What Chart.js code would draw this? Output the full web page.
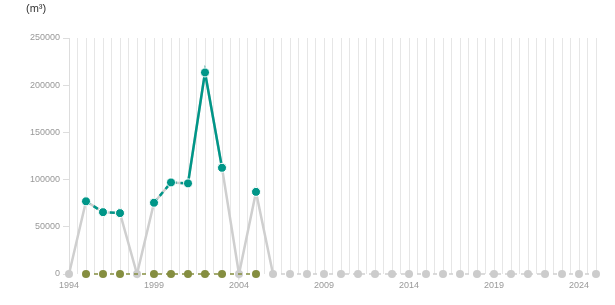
<!DOCTYPE html>
<html>
<head>
<meta charset="utf-8">
<script src="https://cdn.jsdelivr.net/npm/chart.js@4"></script>
<style>
  html, body { margin: 0; padding: 0; background: #fff; }
  #wrap { width: 615px; height: 305px; }
</style>
</head>
<body>
<div id="wrap"><canvas id="chart" width="615" height="305"></canvas></div>
<script>
// Годы и значения (м³)
const years = [];
for (let y = 1994; y <= 2025; y++) years.push(y);

const volumes = [
  0, 77000, 65500, 64500, 0, 75500, 97000, 96000, 213500, 112500,
  0, 87000, 0, 0, 0, 0, 0, 0, 0, 0,
  0, 0, 0, 0, 0, 0, 0, 0, 0, 0,
  0, 0
];
// годы с данными (цветная серия) и нулевая серия под ними
const measuredYears = [1995, 1996, 1997, 1999, 2000, 2001, 2002, 2003, 2005];
const dashedFrom = [1995, 1996, 1999, 2000];
const yTicks = [0, 50000, 100000, 150000, 200000, 250000];
const labelYears = [1994, 1999, 2004, 2009, 2014, 2019, 2024];

const grayData = years.map((y, i) => ({ x: y, y: volumes[i] }));
const tealData = years.map((y, i) => ({ x: y, y: measuredYears.includes(y) ? volumes[i] : null }));
const oliveData = measuredYears.map(y => ({ x: y, y: 0 }));

const tickFont = { family: 'Arial, "Liberation Sans", sans-serif', size: 9 };

new Chart(document.getElementById('chart'), {
  type: 'line',
  data: {
    datasets: [
      {
        label: 'teal',
        data: tealData,
        borderColor: '#009688',
        backgroundColor: '#009688',
        borderWidth: 2.5,
        pointRadius: 4.5,
        pointBorderColor: '#ffffff',
        pointBorderWidth: 1,
        spanGaps: false,
        clip: false,
        order: 1,
        segment: {
          borderDash: ctx => dashedFrom.includes(ctx.p0.parsed.x) ? [5, 4] : undefined
        }
      },
      {
        label: 'olive',
        data: oliveData,
        borderColor: '#858e40',
        backgroundColor: '#858e40',
        borderWidth: 1.5,
        borderDash: [4, 4],
        pointRadius: 4,
        pointBorderWidth: 0,
        spanGaps: true,
        clip: false,
        order: 2
      },
      {
        label: 'gray',
        data: grayData,
        borderColor: '#cfcfcf',
        backgroundColor: '#cccccc',
        borderWidth: 2.5,
        pointRadius: ctx => (ctx.raw && ctx.raw.y === 0) ? 4 : 0,
        pointBorderWidth: 0,
        clip: false,
        order: 3,
        segment: {
          borderDash: ctx => (ctx.p0.parsed.y === 0 && ctx.p1.parsed.y === 0) ? [4, 4] : undefined,
          borderWidth: ctx => (ctx.p0.parsed.y === 0 && ctx.p1.parsed.y === 0) ? 1.5 : 2.5
        }
      }
    ]
  },
  options: {
    responsive: false,
    animation: false,
    layout: { padding: { left: 26, right: 19, top: 0, bottom: 0 } },
    plugins: {
      legend: { display: false },
      tooltip: { enabled: false },
      title: {
        display: true,
        text: '(m³)',
        align: 'start',
        color: '#333333',
        font: { family: 'Arial, "Liberation Sans", sans-serif', size: 11, weight: 'normal' },
        padding: { top: 2, bottom: 22.8 }
      }
    },
    scales: {
      x: {
        type: 'linear',
        min: 1994,
        max: 2025,
        afterFit: s => { s.height = 31; },
        afterBuildTicks: s => {
          const t = [];
          for (let v = 1994; v <= 2025; v += 0.5) t.push({ value: v });
          s.ticks = t;
        },
        ticks: {
          autoSkip: false,
          maxRotation: 0,
          padding: 6,
          color: '#999999',
          font: tickFont,
          callback: v => labelYears.includes(v) ? String(v) : ''
        },
        grid: { color: '#e6e6e6', lineWidth: 1, drawTicks: false },
        border: { display: false }
      },
      y: {
        min: 0,
        max: 250000,
        afterFit: s => { s.width = 43; },
        afterBuildTicks: s => { s.ticks = yTicks.map(v => ({ value: v })); },
        ticks: {
          padding: 3,
          color: '#999999',
          font: tickFont,
          callback: v => String(v)
        },
        grid: { drawOnChartArea: false, drawTicks: true, tickLength: 6, color: '#dddddd' },
        border: { display: true, color: '#dddddd' }
      }
    }
  }
});
</script>
</body>
</html>
